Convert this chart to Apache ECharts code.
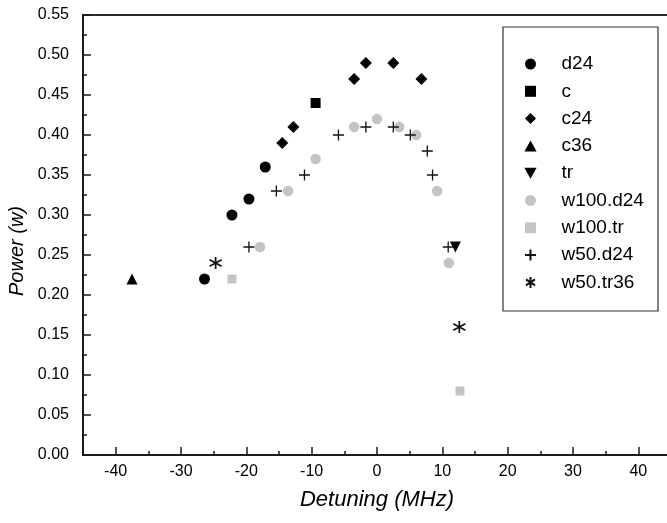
<!DOCTYPE html>
<html>
<head>
<meta charset="utf-8">
<script src="https://cdn.jsdelivr.net/npm/echarts@6/dist/echarts.min.js"></script>
<style>html,body{margin:0;padding:0;background:#fff}#c{width:667px;height:523px}</style>
</head>
<body>
<div id="c"></div>
<script>
// Data: [detuning MHz, power W]
const d24 = [[-26.4,0.22],[-22.2,0.30],[-19.6,0.32],[-17.1,0.36]];
const c = [[-9.4,0.44]];
const c24 = [[-14.5,0.39],[-12.8,0.41],[-3.5,0.47],[-1.7,0.49],[2.5,0.49],[6.8,0.47]];
const c36 = [[-37.5,0.22]];
const tr = [[12.0,0.26]];
const w100d24 = [[-17.9,0.26],[-13.6,0.33],[-9.4,0.37],[-3.5,0.41],[0.0,0.42],[3.4,0.41],[6.0,0.40],[9.2,0.33],[11.0,0.24]];
const w100tr = [[-22.2,0.22],[12.7,0.08]];
const w50d24 = [[-19.6,0.26],[-15.4,0.33],[-11.1,0.35],[-5.9,0.40],[-1.7,0.41],[2.5,0.41],[5.1,0.40],[7.7,0.38],[8.5,0.35],[10.9,0.26]];
const w50tr36 = [[-24.7,0.24],[12.6,0.16]];
const seriesNames = ['d24','c','c24','c36','tr','w100.d24','w100.tr','w50.d24','w50.tr36'];

const SYM = {
  square: 'path://M0,0L10,0L10,10L0,10Z',
  diamond: 'path://M5,0L10,5L5,10L0,5Z',
  triUp: 'path://M5,0L10,9L0,9Z',
  triDown: 'path://M0,0L10,0L5,9Z',
  plus: 'path://M5,0L5,10M0,5L10,5',
  star: 'path://M5,0L5,10M0.9,2.3L9.1,7.7M0.9,7.7L9.1,2.3'
};
const FONT = '"Liberation Sans", Arial, sans-serif';
const BLACK = '#000000', GREY = '#c4c4c4';

function mk(name, data, symbol, size, color, strokeW) {
  return {
    name: name, type: 'scatter', data: data, symbol: symbol, symbolSize: size,
    itemStyle: strokeW ? {color: 'transparent', borderColor: color, borderWidth: strokeW, opacity: 1} : {color: color, borderWidth: 0, opacity: 1},
    emphasis: {disabled: true}, z: 3
  };
}
const series = [
  mk('d24', d24, 'circle', 11, BLACK),
  mk('c', c, SYM.square, 10, BLACK),
  mk('c24', c24, SYM.diamond, 12, BLACK),
  mk('c36', c36, SYM.triUp, 11, BLACK),
  mk('tr', tr, SYM.triDown, 11, BLACK),
  mk('w100.d24', w100d24, 'circle', 10.5, GREY),
  mk('w100.tr', w100tr, SYM.square, 9, GREY),
  mk('w50.d24', w50d24, SYM.plus, 11, '#111', 1.3),
  mk('w50.tr36', w50tr36, SYM.star, 12, '#111', 1.7)
];
const legendIcons = ['circle', SYM.square, SYM.diamond, SYM.triUp, SYM.triDown, 'circle', SYM.square, SYM.plus, SYM.star];

const chart = echarts.init(document.getElementById('c'), null, {renderer: 'canvas'});
chart.setOption({
  animation: false,
  backgroundColor: '#ffffff',
  grid: {left: 83, right: -4, top: 15, bottom: 68, show: true, borderColor: '#2a2a2a', borderWidth: 2, backgroundColor: 'transparent', containLabel: false, outerBoundsMode: 'none'},
  xAxis: {
    type: 'value', min: -45, max: 45, splitNumber: 9,
    name: 'Detuning (MHz)', nameLocation: 'middle', nameGap: 34,
    nameTextStyle: {fontFamily: FONT, fontSize: 22, fontStyle: 'italic', color: '#000'},
    axisLine: {show: true, onZero: false, lineStyle: {color: '#1a1a1a', width: 2}},
    axisTick: {show: true, inside: true, length: 8, lineStyle: {color: '#1a1a1a', width: 1.5}},
    minorTick: {show: true, splitNumber: 2, length: 4, lineStyle: {color: '#1a1a1a', width: 1.5}},
    axisLabel: {fontFamily: FONT, fontSize: 16, color: '#000', margin: 9, showMinLabel: false, showMaxLabel: false},
    splitLine: {show: false}
  },
  yAxis: {
    type: 'value', min: 0, max: 0.55, interval: 0.05,
    name: 'Power (w)', nameLocation: 'middle', nameGap: 48,
    nameTextStyle: {fontFamily: FONT, fontSize: 20, fontStyle: 'italic', color: '#000', padding: [0, 32, 0, 0]},
    axisLine: {show: true, onZero: false, lineStyle: {color: '#1a1a1a', width: 2}},
    axisTick: {show: true, inside: true, length: 8, lineStyle: {color: '#1a1a1a', width: 1.5}},
    minorTick: {show: true, splitNumber: 2, length: 4, lineStyle: {color: '#1a1a1a', width: 1.5}},
    axisLabel: {fontFamily: FONT, fontSize: 16, color: '#000', margin: 14, formatter: v => v.toFixed(2)},
    splitLine: {show: false}
  },
  legend: {
    orient: 'vertical', left: 524, top: 54, padding: 0,
    itemWidth: 52, itemHeight: 11, itemGap: 7.3,
    textStyle: {fontFamily: FONT, fontSize: 19, color: '#000', lineHeight: 20},
    data: seriesNames.map((n, i) => ({name: n, icon: legendIcons[i]})),
    selectedMode: false
  },
  graphic: [{type: 'rect', shape: {x: 503, y: 27, width: 155, height: 284}, style: {fill: 'transparent', stroke: '#333', lineWidth: 1.2}, z: 10}],
  series: series
});
</script>
</body>
</html>
